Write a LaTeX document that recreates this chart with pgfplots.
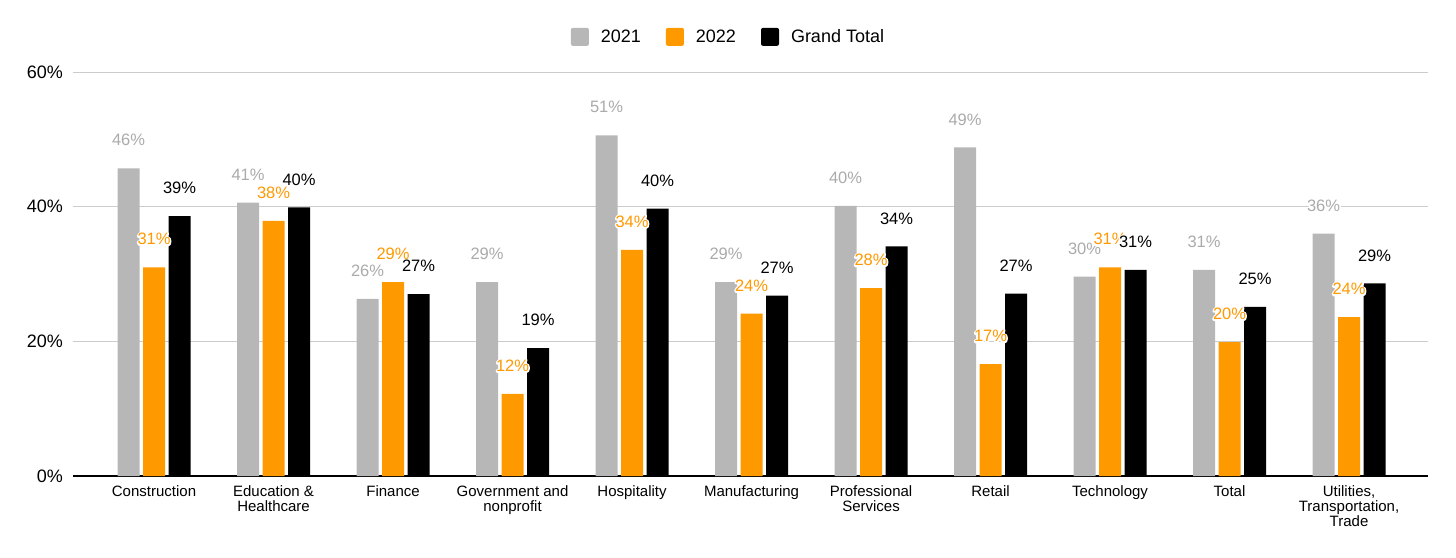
\documentclass[border=0pt]{standalone}
\usepackage{pgfplots}
\pgfplotsset{compat=1.18}
\usepackage{pgfplotstable}
\usepackage{fontspec}
\setmainfont{Liberation Sans}

\definecolor{c2021}{HTML}{B7B7B7}
\definecolor{c2022}{HTML}{FF9900}
\definecolor{ctot}{HTML}{000000}
\definecolor{lab2021}{HTML}{ABABAB}
\definecolor{gridc}{HTML}{CCCCCC}

% white outline behind a label: stroked copy first, normal text on top
\newcommand\halo[1]{\leavevmode\rlap{\special{pdf:literal 1 Tr 1 1 1 RG 3 w 1 j}#1\special{pdf:literal 0 Tr}}#1}

% values in percent, categories plotted at 0..10
\pgfplotstableread{
x a b c
0 45.7 31.0 38.6
1 40.6 37.9 39.9
2 26.3 28.8 27.0
3 28.8 12.2 19.0
4 50.6 33.6 39.7
5 28.8 24.1 26.8
6 40.1 27.9 34.1
7 48.8 16.6 27.1
8 29.6 31.0 30.6
9 30.6 19.9 25.1
10 36.0 23.6 28.6
}\datatable

\begin{document}
\begin{tikzpicture}
\path[use as bounding box] (-73pt,-81pt) rectangle (1383pt,476pt);
\begin{axis}[
  scale only axis,
  width=1355pt, height=404pt,
  ybar=3.5pt, bar width=22pt,
  ymin=0, ymax=60,
  xmin=-0.678, xmax=10.661,
  ytick={0,20,40,60},
  xtick={0,...,10},
  xticklabels={Construction, Education \&\\Healthcare, Finance, Government and\\nonprofit, Hospitality, Manufacturing, Professional\\Services, Retail, Technology, Total, {Utilities,\\Transportation,\\Trade}},
  yticklabel={\pgfmathprintnumber{\tick}\%},
  /pgf/number format/assume math mode=true,
  axis x line*=bottom, axis y line*=left,
  y axis line style={draw=none},
  x axis line style={black, line width=1.3pt},
  major tick length=0pt,
  ymajorgrids, grid style={gridc, line width=1pt},
  yticklabel style={font=\fontsize{18}{20}\selectfont, inner sep=0pt, xshift=-10pt},
  xticklabel style={font=\fontsize{15}{15.3}\selectfont, align=center, inner sep=0pt, yshift=-9pt},
  legend columns=3,
  legend style={draw=none, fill=none, inner sep=0pt, anchor=center,
    at={(axis description cs:0.483,1.087)},
    font=\fontsize{18}{20}\selectfont,
    nodes={inner sep=0pt, anchor=west},
    /tikz/every odd column/.append style={column sep=12pt},
    /tikz/every even column/.append style={column sep=25pt}},
  nodes near coords={\halo{\pgfmathprintnumber[fixed,precision=0]{\pgfplotspointmeta}\%}},
  point meta=y,
  every node near coord/.append style={anchor=center, yshift=28pt, inner sep=0pt, font=\fontsize{16.5}{18}\selectfont},
]
\addplot[fill=c2021, draw=none,
  every node near coord/.append style={text=lab2021},
  legend image code/.code={\fill[c2021, rounded corners=2pt] (0pt,-9pt) rectangle (18pt,9pt);}]
  table[x=x, y=a] {\datatable};
\addlegendentry{2021}
\addplot[fill=c2022, draw=none,
  every node near coord/.append style={text=c2022},
  legend image code/.code={\fill[c2022, rounded corners=2pt] (0pt,-9pt) rectangle (18pt,9pt);}]
  table[x=x, y=b] {\datatable};
\addlegendentry{2022}
\addplot[fill=ctot, draw=none,
  every node near coord/.append style={text=black},
  legend image code/.code={\fill[ctot, rounded corners=2pt] (0pt,-9pt) rectangle (18pt,9pt);}]
  table[x=x, y=c] {\datatable};
\addlegendentry{Grand Total}
\end{axis}
\end{tikzpicture}
\end{document}
